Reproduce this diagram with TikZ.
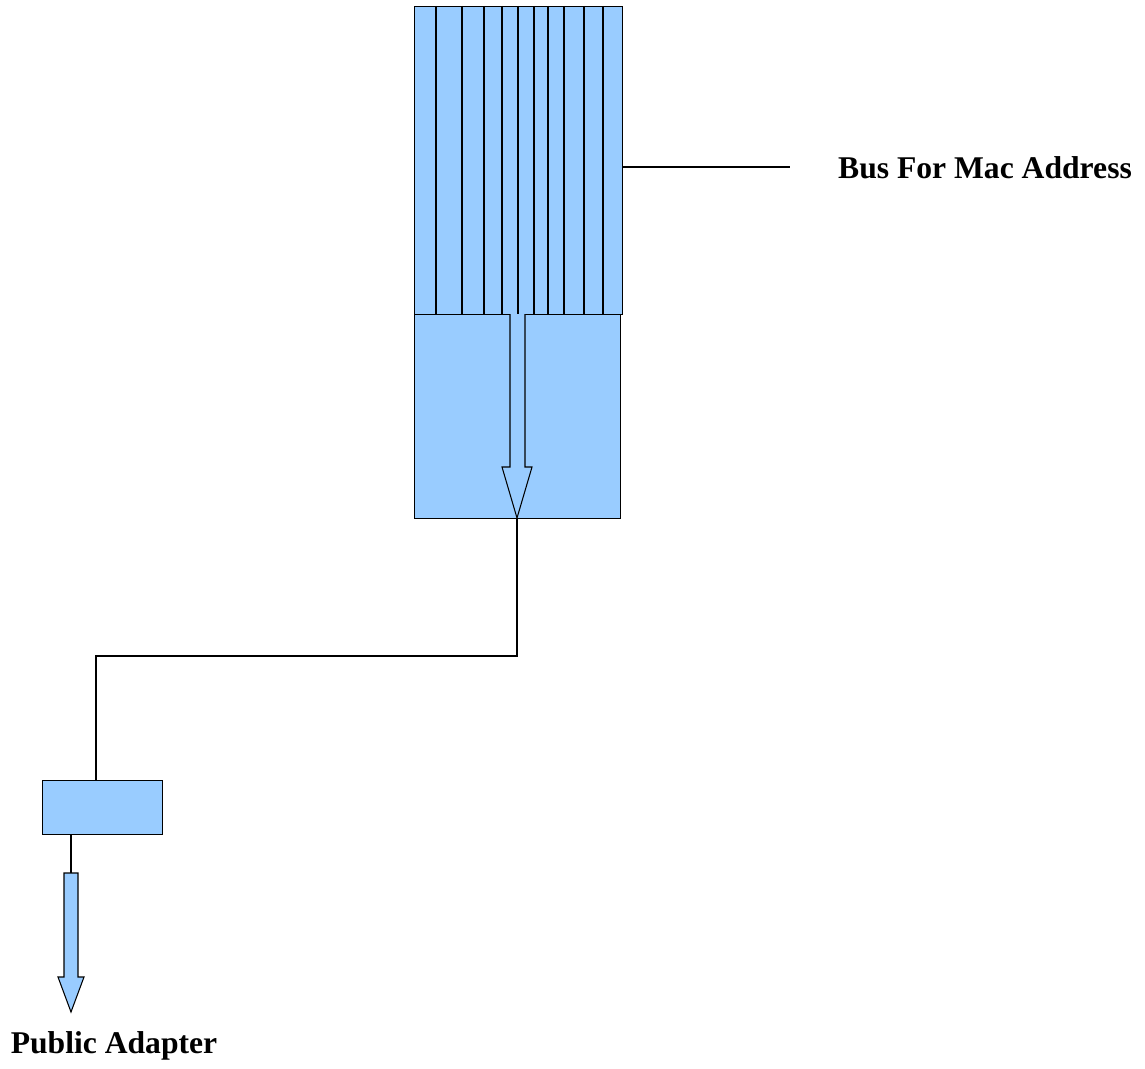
\documentclass[tikz,border=0pt]{standalone}
\usepackage{fontspec}
\setmainfont{Liberation Serif}
\usetikzlibrary{calc}
\definecolor{BoxBlue}{HTML}{99CCFF}

\begin{document}
\begin{tikzpicture}[x=0.02cm, y=-0.02cm, line width=0.6pt,
  blk/.style={draw, fill=BoxBlue, inner sep=0pt, anchor=north west},
  lbl/.style={font=\fontsize{18}{22}\selectfont\bfseries, anchor=base}]
  \useasboundingbox (0,0) rectangle (1145,1068);

  % register with its bit lines, and the buffer below it
  \node[blk, minimum width=4.12cm, minimum height=4.08cm] (buf) at (414,314) {};
  \node[blk, minimum width=4.16cm, minimum height=6.16cm] (reg) at (414,6) {};
  \foreach \x in {436,462,484,502,518,534,548,564,584,603}
    \draw (\x,6) -- (\x,314);

  % wide arrow through the buffer
  \coordinate (tip) at (517,518);
  \draw[fill=BoxBlue] (510,314) -- (510,467) -- (502,467) -- (tip)
    -- (532,467) -- (525,467) -- (525,314);

  % bus line and its label
  \coordinate (busend) at (790,167);
  \draw (busend -| reg.east) -- (busend);
  \node[lbl] (buslbl) at (985,178) {Bus For Mac Address};

  % adapter and the wire to it
  \node[blk, minimum width=2.4cm, minimum height=1.08cm] (adapter) at (42,780) {};
  \coordinate (bend) at (96,656);
  \draw (tip) |- (bend) -- (bend |- adapter.north);

  % output arrow
  \coordinate (outtop) at (71,873);
  \draw (outtop |- adapter.south) -- (outtop);
  \draw[fill=BoxBlue] (64,873) -- (64,977) -- (58,977) -- (71,1012)
    -- (84,977) -- (78,977) -- (78,873) -- cycle;
  \node[lbl] (publbl) at (114,1053) {Public Adapter};
\end{tikzpicture}
\end{document}
